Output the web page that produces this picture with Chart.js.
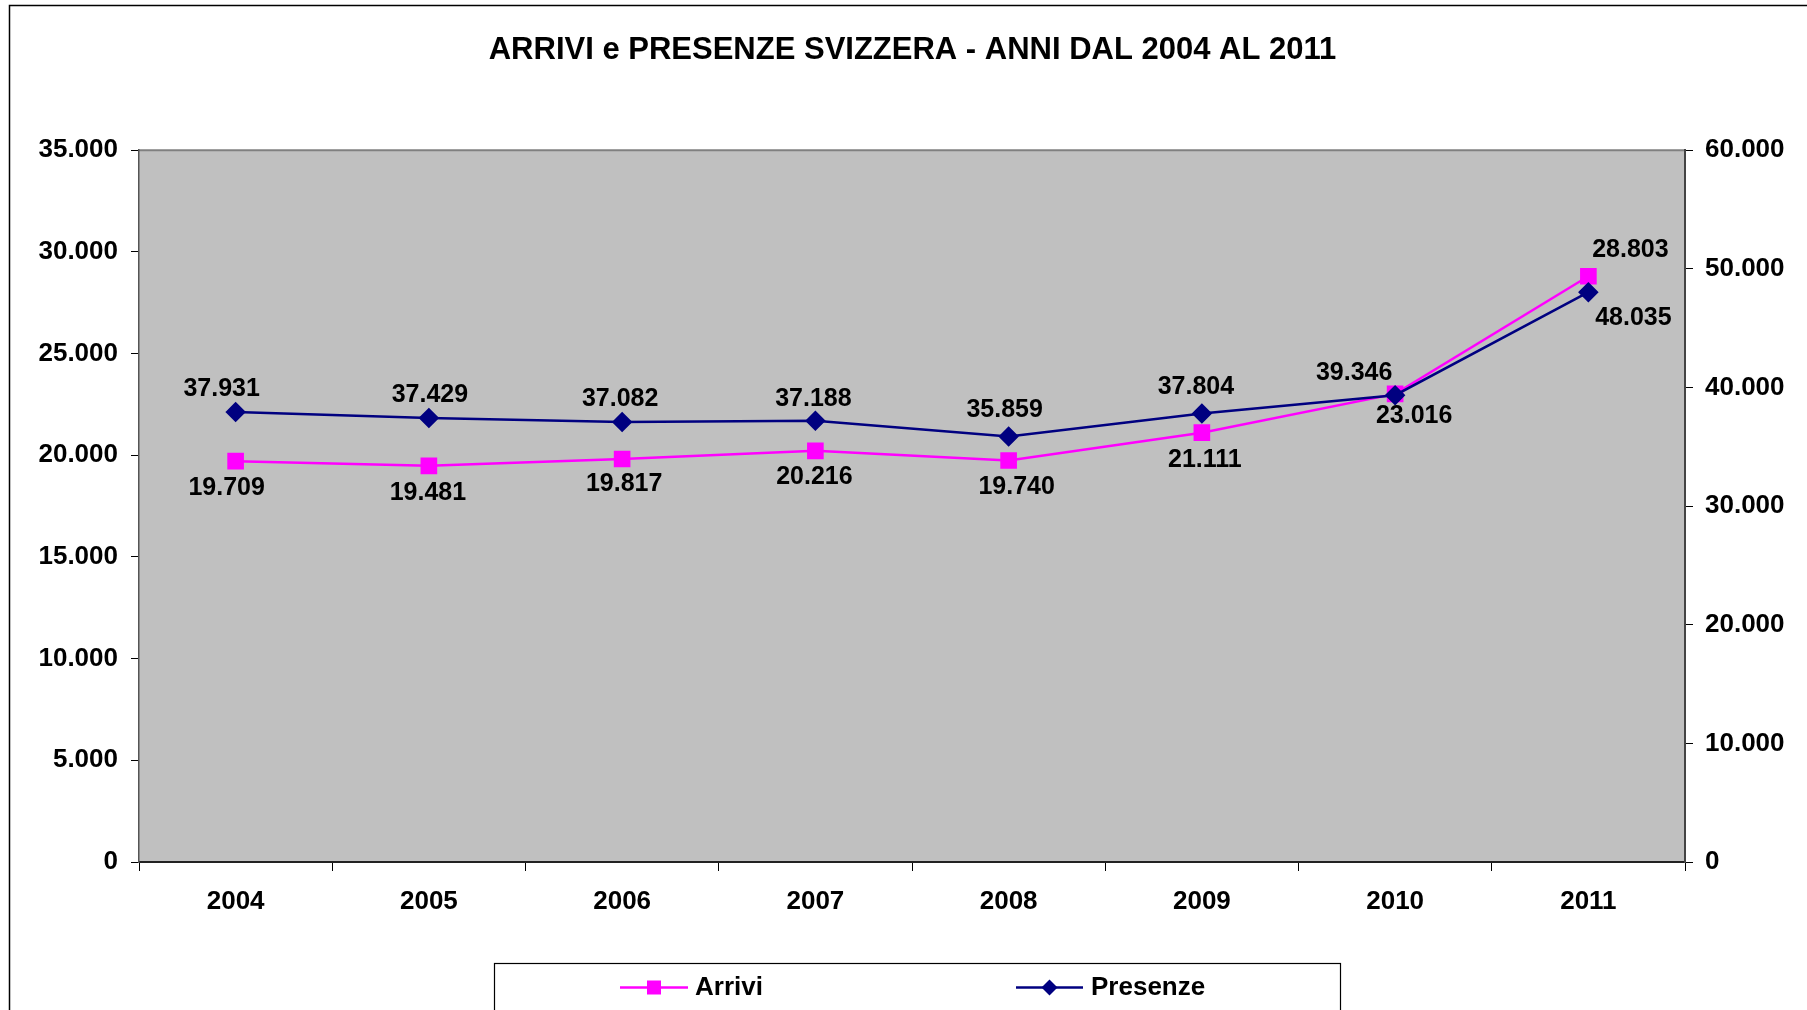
<!DOCTYPE html>
<html>
<head>
<meta charset="utf-8">
<script src="https://cdn.jsdelivr.net/npm/chart.js@4.4.0/dist/chart.umd.min.js"></script>
<style>
  html, body { margin: 0; padding: 0; background: #fff; }
  #wrap { width: 1807px; height: 1010px; }
</style>
</head>
<body>
<div id="wrap"><canvas id="chart" width="1807" height="1010"></canvas></div>
<script>
// dati
const anni = ["2004", "2005", "2006", "2007", "2008", "2009", "2010", "2011"];
const arrivi = [19709, 19481, 19817, 20216, 19740, 21111, 23016, 28803];
const presenze = [37931, 37429, 37082, 37188, 35859, 37804, 39346, 48035];
const maxSinistra = 35000, passoSinistra = 5000;
const maxDestra = 60000, passoDestra = 10000;

// spostamento delle etichette rispetto al punto (x, y)
const offArrivi = [[-9, 27], [-1, 27], [2, 25], [-1, 26], [8, 27], [3, 27], [19, 22], [42, -26]];
const offPresenze = [[-14, -23], [1, -23], [-2, -23], [-2, -22], [-4, -26], [-6, -26], [-41, -22], [45, 26]];

const FONT = "'Liberation Sans', Arial, sans-serif";
const fmt = v => String(v).replace(/\B(?=(\d{3})+(?!\d))/g, ".");

// ---- sfondo, cornice, etichette, legenda ----
const decorazioni = {
  id: "decorazioni",
  beforeDraw(chart) {
    const { ctx, chartArea: a } = chart;
    ctx.save();
    ctx.fillStyle = "#fff";
    ctx.fillRect(0, 0, chart.width, chart.height);
    ctx.strokeStyle = "#000";
    ctx.lineWidth = 1.5;
    ctx.strokeRect(9.5, 5.5, chart.width + 20, chart.height + 20);
    ctx.fillStyle = "#C0C0C0";
    ctx.fillRect(a.left, a.top, a.right - a.left, a.bottom - a.top);
    ctx.strokeStyle = "#808080";
    ctx.lineWidth = 2;
    ctx.beginPath();
    ctx.moveTo(a.left, a.top);
    ctx.lineTo(a.right, a.top);
    ctx.stroke();
    ctx.restore();
  },
  afterDatasetsDraw(chart) {
    const { ctx } = chart;
    ctx.save();
    ctx.font = "bold 25px " + FONT;
    ctx.fillStyle = "#000";
    ctx.textAlign = "center";
    ctx.textBaseline = "middle";
    [offArrivi, offPresenze].forEach((offs, di) => {
      const meta = chart.getDatasetMeta(di);
      const valori = chart.data.datasets[di].data;
      meta.data.forEach((pt, i) => {
        ctx.fillText(fmt(valori[i]), pt.x + offs[i][0], pt.y + offs[i][1]);
      });
    });
    ctx.restore();
  },
  afterDraw(chart) {
    const { ctx } = chart;
    ctx.save();
    // riquadro legenda
    ctx.strokeStyle = "#000";
    ctx.lineWidth = 1.2;
    ctx.strokeRect(494.5, 963.5, 846, 100);
    const y = 987.5;
    const voci = [
      { x0: 620, x1: 688, tx: 695 },
      { x0: 1016, x1: 1083, tx: 1091 }
    ];
    ctx.font = "bold 26px " + FONT;
    ctx.textBaseline = "middle";
    ctx.textAlign = "left";
    voci.forEach((v, i) => {
      const ds = chart.data.datasets[i];
      ctx.strokeStyle = ds.borderColor;
      ctx.lineWidth = ds.borderWidth;
      ctx.beginPath();
      ctx.moveTo(v.x0, y);
      ctx.lineTo(v.x1, y);
      ctx.stroke();
      const cx = (v.x0 + v.x1) / 2;
      ctx.fillStyle = ds.pointBackgroundColor;
      if (ds.pointStyle === "rect") {
        ctx.fillRect(cx - 7, y - 7, 14, 14);
      } else {
        ctx.beginPath();
        ctx.moveTo(cx, y - 8);
        ctx.lineTo(cx + 8, y);
        ctx.lineTo(cx, y + 8);
        ctx.lineTo(cx - 8, y);
        ctx.closePath();
        ctx.fill();
      }
      ctx.fillStyle = "#000";
      ctx.fillText(ds.label, v.tx, y);
    });
    ctx.restore();
  }
};

new Chart(document.getElementById("chart"), {
  type: "line",
  data: {
    labels: anni,
    datasets: [
      {
        label: "Arrivi",
        data: arrivi,
        yAxisID: "y",
        borderColor: "#FF00FF",
        backgroundColor: "#FF00FF",
        pointBackgroundColor: "#FF00FF",
        pointBorderColor: "#FF00FF",
        pointStyle: "rect",
        pointRadius: 10,
        borderWidth: 2.5,
        tension: 0,
        order: 2
      },
      {
        label: "Presenze",
        data: presenze,
        yAxisID: "y2",
        borderColor: "#000080",
        backgroundColor: "#000080",
        pointBackgroundColor: "#000080",
        pointBorderColor: "#000080",
        pointStyle: "rectRot",
        pointRadius: 8.5,
        borderWidth: 2.5,
        tension: 0,
        order: 1
      }
    ]
  },
  options: {
    responsive: false,
    animation: false,
    layout: { padding: { left: 18, right: 0, top: 0, bottom: 0 } },
    plugins: {
      legend: { display: false },
      tooltip: { enabled: false },
      title: {
        display: true,
        text: "ARRIVI e PRESENZE SVIZZERA - ANNI DAL 2004 AL 2011",
        color: "#000",
        font: { family: FONT, size: 31, weight: "bold" },
        padding: { top: 32, bottom: 81 }
      }
    },
    scales: {
      x: {
        type: "category",
        offset: true,
        grid: { offset: true, drawOnChartArea: false, drawTicks: true, tickLength: 9, color: "#000" },
        border: { color: "#222", width: 2 },
        ticks: { color: "#000", padding: 15, maxRotation: 0, font: { family: FONT, size: 26, weight: "bold" } },
        afterFit: s => { s.height = 148; }
      },
      y: {
        position: "left",
        min: 0,
        max: maxSinistra,
        grid: { drawOnChartArea: false, tickLength: 8, color: "#000" },
        border: { color: "#555", width: 1.5 },
        ticks: { stepSize: passoSinistra, color: "#000", padding: 13, callback: v => fmt(v), font: { family: FONT, size: 26, weight: "bold" } },
        afterFit: s => { s.width = 121; }
      },
      y2: {
        position: "right",
        min: 0,
        max: maxDestra,
        grid: { drawOnChartArea: false, tickLength: 8, color: "#000" },
        border: { color: "#444", width: 2 },
        ticks: { stepSize: passoDestra, color: "#000", padding: 12, callback: v => fmt(v), font: { family: FONT, size: 26, weight: "bold" } },
        afterFit: s => { s.width = 122; }
      }
    }
  },
  plugins: [decorazioni]
});
</script>
</body>
</html>
